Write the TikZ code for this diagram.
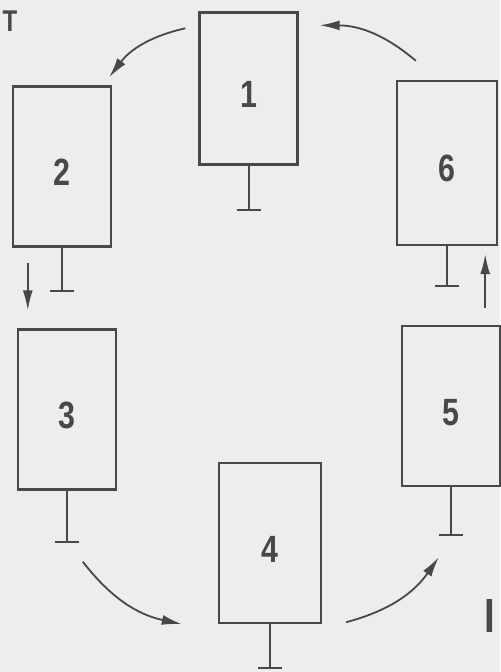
\documentclass[tikz,border=0pt]{standalone}
\usepackage{fontspec}
\setmainfont{Liberation Sans}
\newfontfamily\condfont[FakeStretch=0.8]{Liberation Sans}
\usetikzlibrary{arrows.meta,calc}
\definecolor{ink}{RGB}{72,72,72}
\definecolor{paper}{RGB}{237,237,235}
\tikzset{
  cell/.style={draw=ink,line width=1.2pt,minimum width=49pt,minimum height=80pt,
    text=ink,text height=19pt,text depth=0pt,
    font=\condfont\bfseries\fontsize{19}{19}\selectfont},
  stem/.style={draw=ink,line width=1pt},
  flow/.style={draw=ink,line width=0.9pt,-{Latex[length=10pt,width=5pt]}},
  scrap/.style={text=ink,inner sep=0pt,font=\condfont\bfseries}
}

\begin{document}
\begin{tikzpicture}[x=0.5pt,y=-0.5pt]
  \fill[paper] (0,0) rectangle (500,672);
  \useasboundingbox (0,0) rectangle (500,672);

  % the six boxes
  \node[cell,minimum height=76pt] (b1) at (248.5,88.5) {1};
  \node[cell] (b2) at (62,166.5) {2};
  \node[cell] (b3) at (67,409.5) {3};
  \node[cell,minimum width=51pt] (b4) at (270,543) {4};
  \node[cell] (b5) at (451,406) {5};
  \node[cell,minimum width=50pt,minimum height=82pt] (b6) at (447,163) {6};

  \foreach \n/\len in {1/44,2/43,3/51,4/44,5/48,6/40}
    \draw[stem] (b\n.south) -- ++(0,\len) coordinate (t\n) ++(-12,0) -- ++(24,0);

  % rotation
  \draw[flow] ($(b1.north west)+(-13,17)$) to[bend right=20] ($(b2.north east)+(-3,-8)$);
  \draw[flow] ($(b3.south west)+(66,71)$) to[bend right=20] ($(b4.south west)+(-36,0)$);
  \draw[flow] ($(b4.south east)+(24,-2)$) to[bend right=20] ($(b5.south west)+(38,70)$);
  \draw[flow] ($(b6.north west)+(20,-19)$) to[bend right=20] ($(b1.north east)+(21,14)$);

  \coordinate (d2) at ($(b2.south west)+(16,15)$);
  \coordinate (d3) at ($(b3.north west)+(11,-18)$);
  \coordinate (u5) at ($(b5.north east)+(-16,-17)$);
  \coordinate (u6) at ($(b6.south east)+(-13,8)$);
  \draw[flow] (d2) -- (d3);
  \draw[flow] (u5) -- (u6);

  \node[scrap,font=\condfont\bfseries\fontsize{15}{15}\selectfont] (s1) at (10,21) {T};
  \node[scrap,font=\condfont\bfseries\fontsize{24}{24}\selectfont] (s2) at (490,616) {I};
\end{tikzpicture}
\end{document}
